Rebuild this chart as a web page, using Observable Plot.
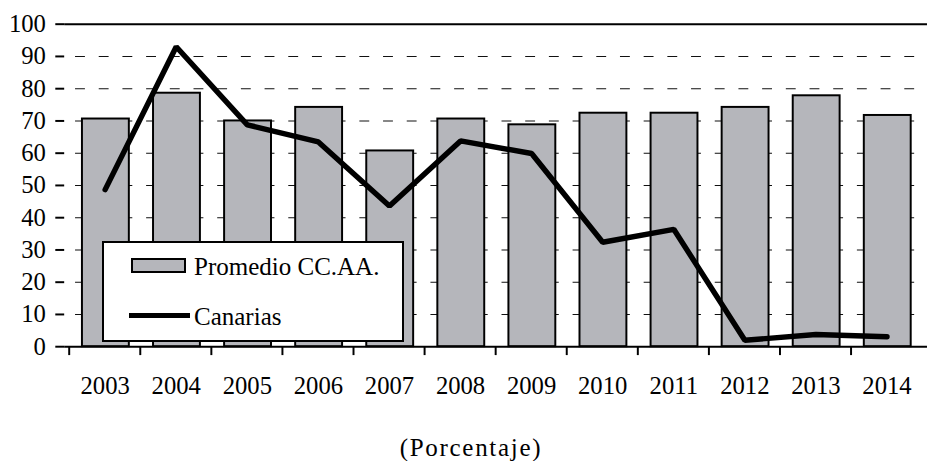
<!DOCTYPE html>
<html>
<head>
<meta charset="utf-8">
<script src="https://cdn.jsdelivr.net/npm/d3@7"></script>
<script src="https://cdn.jsdelivr.net/npm/@observablehq/plot@0.6"></script>
<style>
  html, body { margin: 0; padding: 0; background: #fff; overflow: hidden; }
  #wrap { position: relative; width: 927px; height: 461px; overflow: hidden; font-family: 'Liberation Serif', 'Times New Roman', serif; }
  #chart { position: absolute; left: 0; top: 0; }
  .abs { position: absolute; }
  .txt { font-size: 25px; line-height: 25px; white-space: nowrap; color: #000; }
</style>
</head>
<body>
<div id="wrap">
  <div id="chart"></div>
</div>
<script>
const years = ["2003","2004","2005","2006","2007","2008","2009","2010","2011","2012","2013","2014"];
const promedio = [70.6, 78.6, 70.0, 74.2, 60.7, 70.6, 68.8, 72.4, 72.4, 74.2, 77.8, 71.7];
const canarias = [48.7, 93.0, 68.8, 63.5, 43.6, 63.8, 59.9, 32.4, 36.4, 2.0, 3.8, 3.1];
const yTicks = [0,10,20,30,40,50,60,70,80,90,100];
const gridTicks = [10,20,30,40,50,60,70,80,90];
const legendLabels = ["Promedio CC.AA.", "Canarias"];
const captionText = "(Porcentaje)";

const data = years.map((year, i) => ({year, avg: promedio[i], can: canarias[i]}));

const W = 939, H = 410, mL = 65, mR = 0, mT = 24, mB = H - 350.7;
const step = (W - mL - mR) / years.length;
const font = "'Liberation Serif', 'Times New Roman', serif";

const chart = Plot.plot({
  width: W,
  height: H,
  marginLeft: mL,
  marginRight: mR,
  marginTop: mT,
  marginBottom: mB,
  style: {fontFamily: font, fontSize: "25px", color: "#000", background: "transparent", overflow: "visible"},
  x: {type: "band", domain: years, padding: 0, label: null},
  y: {domain: [0, 100], label: null},
  marks: [
    Plot.ruleY(gridTicks, {stroke: "#111", strokeWidth: 1.1, strokeDasharray: "10,14", strokeDashoffset: 13}),
    Plot.barY(data, {x: "year", y: "avg", fill: "#b5b6bb", stroke: "#000", strokeWidth: 2, insetLeft: 13, insetRight: 11.5}),
    Plot.ruleY([100], {stroke: "#000", strokeWidth: 2}),
    Plot.ruleY([0], {stroke: "#000", strokeWidth: 2}),
    Plot.lineY(data, {x: "year", y: "can", stroke: "#000", strokeWidth: 5.5, strokeLinejoin: "miter"}),
    Plot.axisY({ticks: yTicks, tickSize: 9, tickPadding: 10, tickFormat: d => String(d), fontSize: 25, line: true, stroke: "#000", strokeWidth: 2, label: null}),
    Plot.axisX({tickSize: 9, dx: -step / 2, tickFormat: () => "", strokeWidth: 2, label: null}),
    Plot.axisX({tickSize: 0, tickPadding: 30, fontSize: 25, label: null})
  ]
});
document.getElementById("chart").appendChild(chart);

const wrap = document.getElementById("wrap");
function add(cls, css, text) {
  const el = document.createElement("div");
  el.className = cls;
  el.style.cssText = css;
  if (text != null) el.textContent = text;
  wrap.appendChild(el);
  return el;
}
// legend (inside plot area)
add("abs", "left:102px;top:241px;width:302px;height:101px;border:2px solid #000;background:#fff;box-sizing:border-box;");
add("abs", "left:131px;top:258px;width:55px;height:15px;border:2px solid #000;background:#b5b6bb;box-sizing:border-box;");
add("abs txt", "left:194px;top:254px;", legendLabels[0]);
add("abs", "left:129px;top:312.5px;width:61px;height:5px;background:#000;");
add("abs txt", "left:194px;top:304px;", legendLabels[1]);
// caption below
add("abs txt", "left:0px;width:942px;text-align:center;top:435px;letter-spacing:1.7px;", captionText);
</script>
</body>
</html>
